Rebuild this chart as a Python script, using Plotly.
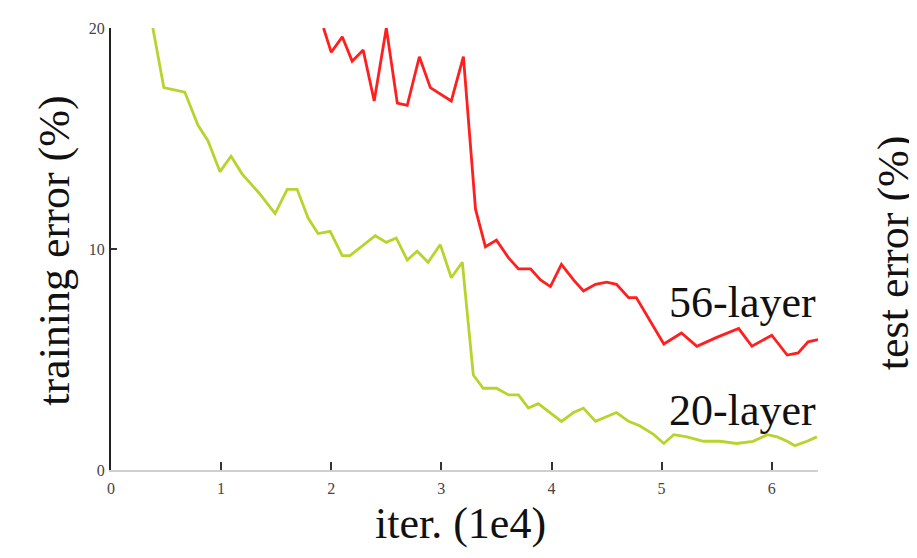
import plotly.graph_objects as go

# ---- data ----
green_x = [0.38, 0.48, 0.67, 0.79, 0.88, 0.99, 1.09, 1.19, 1.35, 1.49, 1.60, 1.69, 1.79, 1.88,
           1.99, 2.10, 2.17, 2.40, 2.50, 2.59, 2.69, 2.78, 2.88, 2.99, 3.09, 3.19, 3.29, 3.38,
           3.50, 3.61, 3.70, 3.79, 3.88, 3.99, 4.09, 4.20, 4.29, 4.40, 4.50, 4.59, 4.70, 4.80,
           4.93, 5.02, 5.11, 5.23, 5.38, 5.53, 5.68, 5.83, 5.96, 6.05, 6.14, 6.21, 6.32, 6.41]
green_y = [20.0, 17.3, 17.1, 15.6, 14.9, 13.5, 14.2, 13.4, 12.5, 11.6, 12.7, 12.7, 11.4, 10.7,
           10.8, 9.7, 9.7, 10.6, 10.3, 10.5, 9.5, 9.9, 9.4, 10.2, 8.7, 9.4, 4.3, 3.7,
           3.7, 3.4, 3.4, 2.8, 3.0, 2.6, 2.2, 2.6, 2.8, 2.2, 2.4, 2.6, 2.2, 2.0,
           1.6, 1.2, 1.6, 1.5, 1.3, 1.3, 1.2, 1.3, 1.6, 1.5, 1.3, 1.1, 1.3, 1.5]

red_x = [1.93, 2.00, 2.10, 2.19, 2.29, 2.39, 2.50, 2.60, 2.69, 2.80, 2.90, 3.00, 3.09, 3.20,
         3.31, 3.40, 3.50, 3.61, 3.70, 3.81, 3.90, 3.99, 4.09, 4.20, 4.29, 4.40, 4.50, 4.59,
         4.70, 4.77, 4.90, 5.02, 5.18, 5.32, 5.50, 5.70, 5.82, 6.00, 6.14, 6.24, 6.33, 6.42]
red_y = [20.0, 18.9, 19.6, 18.5, 19.0, 16.7, 20.0, 16.6, 16.5, 18.7, 17.3, 17.0, 16.7, 18.7,
         11.8, 10.1, 10.4, 9.6, 9.1, 9.1, 8.6, 8.3, 9.3, 8.6, 8.1, 8.4, 8.5, 8.4,
         7.8, 7.8, 6.7, 5.7, 6.2, 5.6, 6.0, 6.4, 5.6, 6.1, 5.2, 5.3, 5.8, 5.9]

x_ticks = [0, 1, 2, 3, 4, 5, 6]
x_tick_labels = ["0", "1", "2", "3", "4", "5", "6"]
y_ticks = [0, 10, 20]
y_tick_labels = ["0", "10", "20"]

series_labels = ["56-layer", "20-layer"]
label_pos_x = [5.05, 5.05]
label_pos_y = [7.6, 2.7]

SERIF = "Liberation Serif, Times New Roman, serif"

fig = go.Figure()
fig.add_trace(go.Scatter(x=green_x, y=green_y, mode="lines",
                         line=dict(color="#b9d32c", width=2.8), name="20-layer"))
fig.add_trace(go.Scatter(x=red_x, y=red_y, mode="lines",
                         line=dict(color="#ff1f1f", width=2.8), name="56-layer"))

for txt, lx, ly in zip(series_labels, label_pos_x, label_pos_y):
    fig.add_annotation(x=lx, y=ly, xref="x", yref="y", text=txt, showarrow=False,
                       xanchor="left", yanchor="middle",
                       font=dict(family=SERIF, size=44, color="#111"))

# axis titles as annotations (paper coordinates)
fig.add_annotation(x=-0.08, y=0.497, xref="paper", yref="paper", text="training error (%)",
                   textangle=-90, showarrow=False, xanchor="center", yanchor="middle",
                   font=dict(family=SERIF, size=44, color="#111"))
fig.add_annotation(x=1.107, y=0.492, xref="paper", yref="paper", text="test error (%)",
                   textangle=-90, showarrow=False, xanchor="center", yanchor="middle",
                   font=dict(family=SERIF, size=44, color="#111"))
fig.add_annotation(x=0.495, y=-0.122, xref="paper", yref="paper", text="iter. (1e4)",
                   showarrow=False, xanchor="center", yanchor="middle",
                   font=dict(family=SERIF, size=44, color="#111"))

fig.update_layout(
    width=917, height=558,
    margin=dict(l=103, r=107, t=15, b=96),
    paper_bgcolor="white", plot_bgcolor="white",
    showlegend=False,
    xaxis=dict(range=[0, 6.42], tickvals=x_ticks, ticktext=x_tick_labels,
               showgrid=False, zeroline=False, showline=True, linecolor="#cfcfcf",
               linewidth=2, ticks="inside", ticklen=8, tickwidth=2, tickcolor="#333",
               tickfont=dict(family=SERIF, size=16, color="#444"), ticklabelstandoff=3),
    yaxis=dict(range=[0, 20], tickvals=y_ticks, ticktext=y_tick_labels,
               showgrid=False, zeroline=False, showline=True, linecolor="#222",
               linewidth=2, ticks="inside", ticklen=6, tickwidth=2, tickcolor="#333",
               tickfont=dict(family=SERIF, size=16, color="#444"), ticklabelstandoff=1),
)

fig.write_html("out.html")
